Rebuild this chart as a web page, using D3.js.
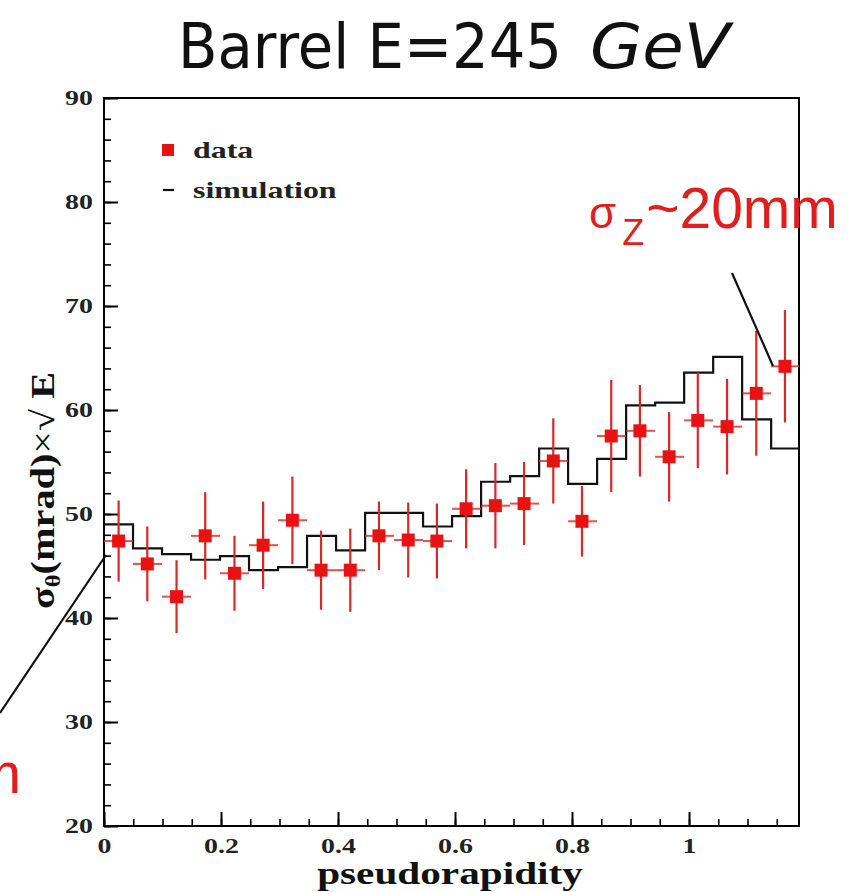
<!DOCTYPE html>
<html>
<head>
<meta charset="utf-8">
<script src="https://cdn.jsdelivr.net/npm/d3@7"></script>
<style>
  html, body { margin: 0; padding: 0; background: #fff; }
  svg { display: block; }
</style>
</head>
<body>
<svg id="chart" width="858" height="892"></svg>
<script>
// ---- data ----
const etaCenters = [0.025, 0.074, 0.124, 0.173, 0.223, 0.272, 0.322, 0.371, 0.421, 0.470, 0.520, 0.569,
                    0.619, 0.669, 0.718, 0.768, 0.817, 0.867, 0.916, 0.966, 1.015, 1.065, 1.115, 1.164];
const dataValues = [47.4, 45.2, 42.05, 47.9, 44.3, 47.0, 49.4, 44.6, 44.6, 47.9, 47.5, 47.4,
                    50.5, 50.8, 51.0, 55.1, 49.3, 57.5, 58.0, 55.5, 59.0, 58.4, 61.6, 64.2];
const dataErrors = [3.9, 3.6, 3.5, 4.2, 3.6, 4.2, 4.2, 3.8, 4.0, 3.3, 3.6, 3.6,
                    3.8, 4.1, 4.0, 4.1, 3.4, 5.4, 4.4, 4.3, 4.6, 4.6, 6.0, 5.4];
const binEdges = [0, 0.0496, 0.0992, 0.1488, 0.1983, 0.2479, 0.2975, 0.3471, 0.3967, 0.4463, 0.4958, 0.5454,
                  0.595, 0.6446, 0.6942, 0.7438, 0.7933, 0.8429, 0.8925, 0.9421, 0.9917, 1.0413, 1.0908, 1.1404, 1.188];
const simValues = [49.0, 46.7, 46.15, 45.6, 45.95, 44.6, 44.9, 47.9, 46.5, 50.1, 50.1, 48.8,
                   49.8, 53.1, 53.65, 56.3, 52.9, 55.3, 60.45, 60.7, 63.6, 65.1, 59.1, 56.3];
const xTickValues = [0, 0.2, 0.4, 0.6, 0.8, 1];
const xTickLabels = ["0", "0.2", "0.4", "0.6", "0.8", "1"];
const yTickValues = [20, 30, 40, 50, 60, 70, 80, 90];
const legendLabels = ["data", "simulation"];
const titleMain = "Barrel E=245";
const titleUnit = "GeV";

// ---- layout ----
const svg = d3.select("#chart");
const L = 104, R = 799, T = 98, B = 826;
const x = d3.scaleLinear().domain([0, 1.188]).range([L, R]);
const y = d3.scaleLinear().domain([20, 90]).range([B, T]);
const SERIF = "'Liberation Serif', 'Times New Roman', serif";
const SX = 1.33; // horizontal stretch of the original raster text
const red = "#e81212";
const errRed = "#d42a2a";
const TITLE_FONT = "'DejaVu Sans', sans-serif";

// title
svg.append("text")
  .attr("x", 178).attr("y", 68)
  .attr("font-family", TITLE_FONT).attr("font-size", 62)
  .attr("textLength", 384).attr("lengthAdjust", "spacingAndGlyphs")
  .attr("fill", "#111").text(titleMain);
svg.append("text")
  .attr("x", 590).attr("y", 68)
  .attr("font-family", TITLE_FONT).attr("font-size", 62).attr("font-style", "italic")
  .attr("textLength", 140).attr("lengthAdjust", "spacingAndGlyphs")
  .attr("fill", "#111").text(titleUnit);

// frame
svg.append("rect")
  .attr("x", L).attr("y", T).attr("width", R - L).attr("height", B - T)
  .attr("fill", "none").attr("stroke", "#000").attr("stroke-width", 2);

// minor ticks
svg.append("g").attr("transform", `translate(${L},0)`)
  .call(d3.axisLeft(y).tickValues(d3.range(20, 90.1, 2)).tickSize(-7).tickFormat(""))
  .call(g => g.select(".domain").remove())
  .call(g => g.selectAll("line").attr("stroke", "#000").attr("stroke-width", 1.6));
svg.append("g").attr("transform", `translate(0,${B})`)
  .call(d3.axisBottom(x).tickValues(d3.range(0, 1.19, 0.05)).tickSize(-7).tickFormat(""))
  .call(g => g.select(".domain").remove())
  .call(g => g.selectAll("line").attr("stroke", "#000").attr("stroke-width", 1.6));

// major ticks + labels
svg.append("g").attr("transform", `translate(${L},0)`)
  .call(d3.axisLeft(y).tickValues(yTickValues).tickSize(-14).tickPadding(11).tickFormat(d3.format("d")))
  .call(g => g.select(".domain").remove())
  .call(g => g.selectAll("line").attr("stroke", "#000").attr("stroke-width", 2))
  .call(g => g.selectAll("text")
    .attr("font-family", SERIF).attr("font-weight", "bold").attr("font-size", 21)
    .attr("fill", "#222")
    .attr("x", -11 / SX).attr("transform", `scale(${SX},1)`));
svg.append("g").attr("transform", `translate(0,${B})`)
  .call(d3.axisBottom(x).tickValues(xTickValues).tickSize(-14).tickFormat((d, i) => xTickLabels[i]))
  .call(g => g.select(".domain").remove())
  .call(g => g.selectAll("line").attr("stroke", "#000").attr("stroke-width", 2))
  .call(g => g.selectAll("text")
    .attr("font-family", SERIF).attr("font-weight", "bold").attr("font-size", 21)
    .attr("fill", "#222")
    .attr("y", 27).attr("dy", 0).attr("transform", `scale(${SX},1)`));

// axis titles
svg.append("text")
  .attr("transform", `translate(450,884) scale(${SX},1)`)
  .attr("text-anchor", "middle")
  .attr("font-family", SERIF).attr("font-weight", "bold").attr("font-size", 31)
  .attr("fill", "#111")
  .text("pseudorapidity");

const yt = svg.append("text")
  .attr("transform", "translate(54,372) rotate(-90) scale(1.22,1)")
  .attr("text-anchor", "end")
  .attr("font-family", SERIF).attr("font-weight", "bold").attr("font-size", 33)
  .attr("fill", "#111");
yt.append("tspan").text("σ");
yt.append("tspan").attr("font-size", 20).attr("dy", 6).text("θ");
yt.append("tspan").attr("dy", -6).text("(mrad)");
yt.append("tspan").attr("font-weight", "normal").text("×√ ");
yt.append("tspan").text("E");

// simulation histogram
const histPts = binEdges.map((e, i) => [e, simValues[Math.min(i, simValues.length - 1)]]);
svg.append("path")
  .datum(histPts)
  .attr("d", d3.line().x(d => x(d[0])).y(d => y(d[1])).curve(d3.curveStepAfter))
  .attr("fill", "none").attr("stroke", "#111").attr("stroke-width", 2.2);

// data with error bars
const pts = etaCenters.map((e, i) => ({ eta: e, v: dataValues[i], err: dataErrors[i], lo: binEdges[i], hi: binEdges[i + 1] }));
const gData = svg.append("g");
gData.selectAll("line.h").data(pts).join("line").attr("class", "h")
  .attr("x1", d => x(d.lo)).attr("x2", d => x(d.hi))
  .attr("y1", d => y(d.v)).attr("y2", d => y(d.v))
  .attr("stroke", errRed).attr("stroke-width", 2).attr("opacity", 0.8);
gData.selectAll("line.v").data(pts).join("line").attr("class", "v")
  .attr("x1", d => x(d.eta)).attr("x2", d => x(d.eta))
  .attr("y1", d => y(d.v + d.err)).attr("y2", d => y(d.v - d.err))
  .attr("stroke", errRed).attr("stroke-width", 2.2);
gData.selectAll("rect").data(pts).join("rect")
  .attr("x", d => x(d.eta) - 6.5).attr("y", d => y(d.v) - 6.5)
  .attr("width", 13).attr("height", 13).attr("fill", red);

// legend
svg.append("rect").attr("x", 162).attr("y", 144).attr("width", 12).attr("height", 12).attr("fill", red);
svg.append("line").attr("x1", 163).attr("x2", 174).attr("y1", 190).attr("y2", 190)
  .attr("stroke", "#111").attr("stroke-width", 2.2);
svg.append("text").attr("transform", `translate(193,158) scale(${SX},1)`)
  .attr("font-family", SERIF).attr("font-weight", "bold").attr("font-size", 24).attr("fill", "#222")
  .text(legendLabels[0]);
svg.append("text").attr("transform", `translate(193,198) scale(${SX},1)`)
  .attr("font-family", SERIF).attr("font-weight", "bold").attr("font-size", 24).attr("fill", "#222")
  .text(legendLabels[1]);

// annotations
const SANS = "'Liberation Sans', Arial, sans-serif";
const ann = svg.append("text").attr("x", 589).attr("y", 228)
  .attr("font-family", SANS).attr("fill", "#e01e1e");
ann.append("tspan").attr("font-size", 44).text("σ");
ann.append("tspan").attr("font-size", 36).attr("dx", 6).attr("dy", 17).text("Z");
ann.append("tspan").attr("font-size", 57).attr("dx", 2).attr("dy", -17).text("~20mm");

const ann2 = svg.append("text").attr("x", 21).attr("y", 793).attr("text-anchor", "end")
  .attr("font-family", SANS).attr("fill", "#e01e1e");
ann2.append("tspan").attr("font-size", 44).text("σ");
ann2.append("tspan").attr("font-size", 36).attr("dx", 6).attr("dy", 17).text("Z");
ann2.append("tspan").attr("font-size", 57).attr("dx", 2).attr("dy", -17).text("~10mm");

svg.append("line").attr("x1", 0).attr("y1", 713).attr("x2", 106).attr("y2", 555)
  .attr("stroke", "#111").attr("stroke-width", 2.2);
svg.append("line").attr("x1", 732).attr("y1", 273).attr("x2", 773).attr("y2", 366)
  .attr("stroke", "#111").attr("stroke-width", 2.2);
</script>
</body>
</html>
